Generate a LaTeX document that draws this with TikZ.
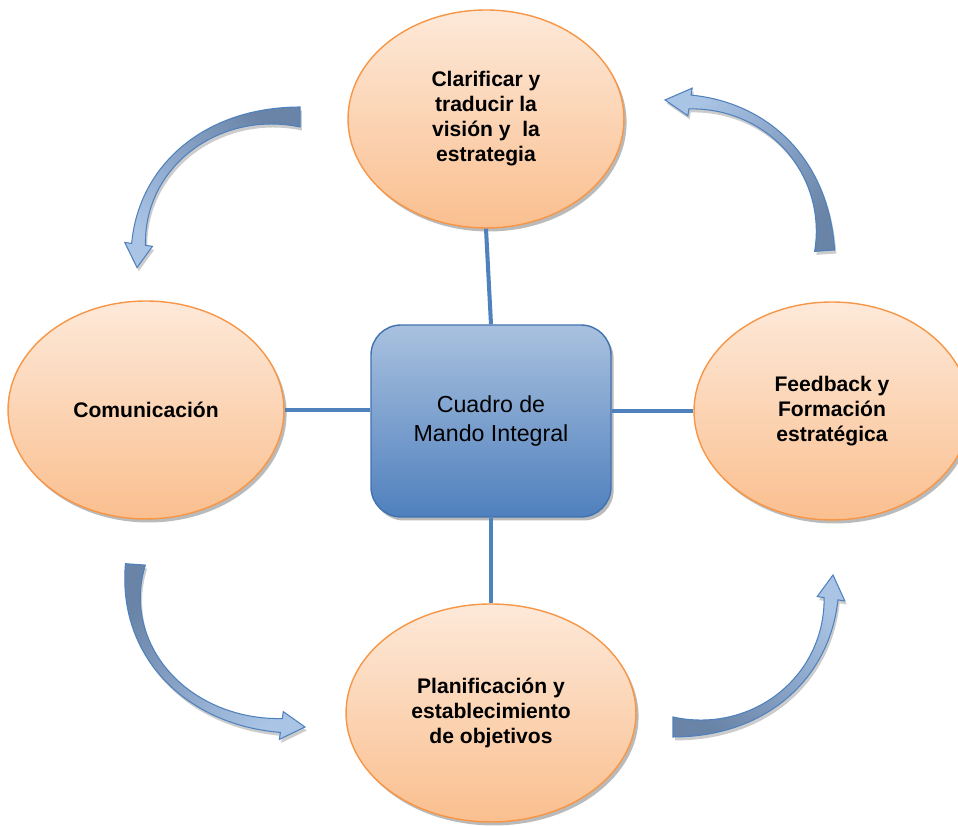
\documentclass[tikz,border=0pt]{standalone}
\usepackage{fontspec}
\setmainfont{Liberation Sans}
\usetikzlibrary{shapes.geometric,shadows,positioning}

\definecolor{peachtop}{HTML}{FDE9D9}
\definecolor{peachbot}{HTML}{FABF8F}
\definecolor{peachline}{HTML}{F79646}
\definecolor{boxtop}{HTML}{A9C1DF}
\definecolor{boxbot}{HTML}{4F80BD}
\definecolor{boxline}{HTML}{4172B0}
\definecolor{linkblue}{HTML}{4F81BD}
\definecolor{arrdark}{HTML}{6A84A8}
\definecolor{arrmid}{HTML}{4A7CC0}
\definecolor{arrlight}{HTML}{AAC4E6}

\tikzset{
    goal/.style={
           ellipse,
           draw=peachline, line width=0.8pt,
           top color=peachtop, bottom color=peachbot,
           minimum width=5.52cm,
           minimum height=4.36cm,
           inner sep=0pt, align=center,
           font=\fontsize{12}{14.2}\selectfont\bfseries,
           drop shadow={shadow xshift=1.5pt, shadow yshift=-2pt, fill=black!45, opacity=.6}
           },
    core/.style={
           rectangle, rounded corners=0.6cm,
           draw=boxline, line width=0.8pt,
           top color=boxtop, bottom color=boxbot,
           minimum width=4.8cm,
           minimum height=3.84cm,
           inner sep=0pt, align=center,
           font=\fontsize{13.2}{16}\selectfont,
           drop shadow={shadow xshift=1.5pt, shadow yshift=-2pt, fill=black!45, opacity=.6}
           },
    link/.style={
           draw=linkblue, line width=2.3pt
           },
    turn/.style={
           draw=linkblue, line width=0.6pt,
           top color=arrdark, middle color=arrmid, bottom color=arrlight,
           drop shadow={shadow xshift=1pt, shadow yshift=-2pt, fill=black!40, opacity=.5}
           },
    declare function={hw(\s)=4+6*(1-\s)^4+3*(\s)^4; bul(\s)=1+0.05*sin(180*\s);}
}

% bent block arrow on an elliptic arc:
% #1,#2 centre, #3,#4 radii, #5 tail angle, #6 head base, #7 tip, #8 shading angle
\newcommand{\turnarrow}[8]{%
  \path[turn, shading angle=#8]
    plot[domain=#5:#6, samples=40, variable=\t]
      ({#1+(#3*bul((\t-#5)/(#6-#5))+hw((\t-#5)/(#6-#5)))*cos(\t)},
       {#2+(#4*bul((\t-#5)/(#6-#5))+hw((\t-#5)/(#6-#5)))*sin(\t)})
    -- ({#1+(#3+14)*cos(#6)},{#2+(#4+14)*sin(#6)})
    -- ({#1+#3*cos(#7)},{#2+#4*sin(#7)})
    -- ({#1+(#3-14)*cos(#6)},{#2+(#4-14)*sin(#6)})
    -- plot[domain=#5:#6, samples=40, variable=\t]
      ({#1+(#3*bul((#6-\t)/(#6-#5))-hw((#6-\t)/(#6-#5)))*cos(#5+#6-\t)},
       {#2+(#4*bul((#6-\t)/(#6-#5))-hw((#6-\t)/(#6-#5)))*sin(#5+#6-\t)})
    -- cycle;
}

\begin{document}
\begin{tikzpicture}[x=0.02cm, y=0.02cm]
\useasboundingbox (0,0) rectangle (958,827);
% arrows round the cycle
\turnarrow{300}{562}{163}{148}{90}{172}{181}{-45}
\turnarrow{665}{565}{160}{162}{4}{81}{90}{-135}
\turnarrow{673}{252}{160}{152}{270}{351}{360}{135}
\turnarrow{305}{252}{170}{152}{176}{262}{270}{45}

   \node[core] (bsc) at (491,406) {Cuadro de\\Mando Integral};
   \node[goal] (vision) at (486,708) {Clarificar y\\traducir la\\visión y~ la\\estrategia};
   \node[goal] (comm) at (146,417) {Comunicación};
   \node[goal] (feed) at (832,416) {Feedback y\\Formación\\estratégica};
   \node[goal, minimum width=5.8cm] (plan) at (491,114) {Planificación y\\establecimiento\\de objetivos};

   \path[link] (vision.south) -- (bsc.north);
   \path[link] (comm.east) -- (comm.east -| bsc.west);
   \path[link] (bsc.east |- feed.west) -- (feed.west);
   \path[link] (bsc.south) -- (plan.north);
\end{tikzpicture}
\end{document}
